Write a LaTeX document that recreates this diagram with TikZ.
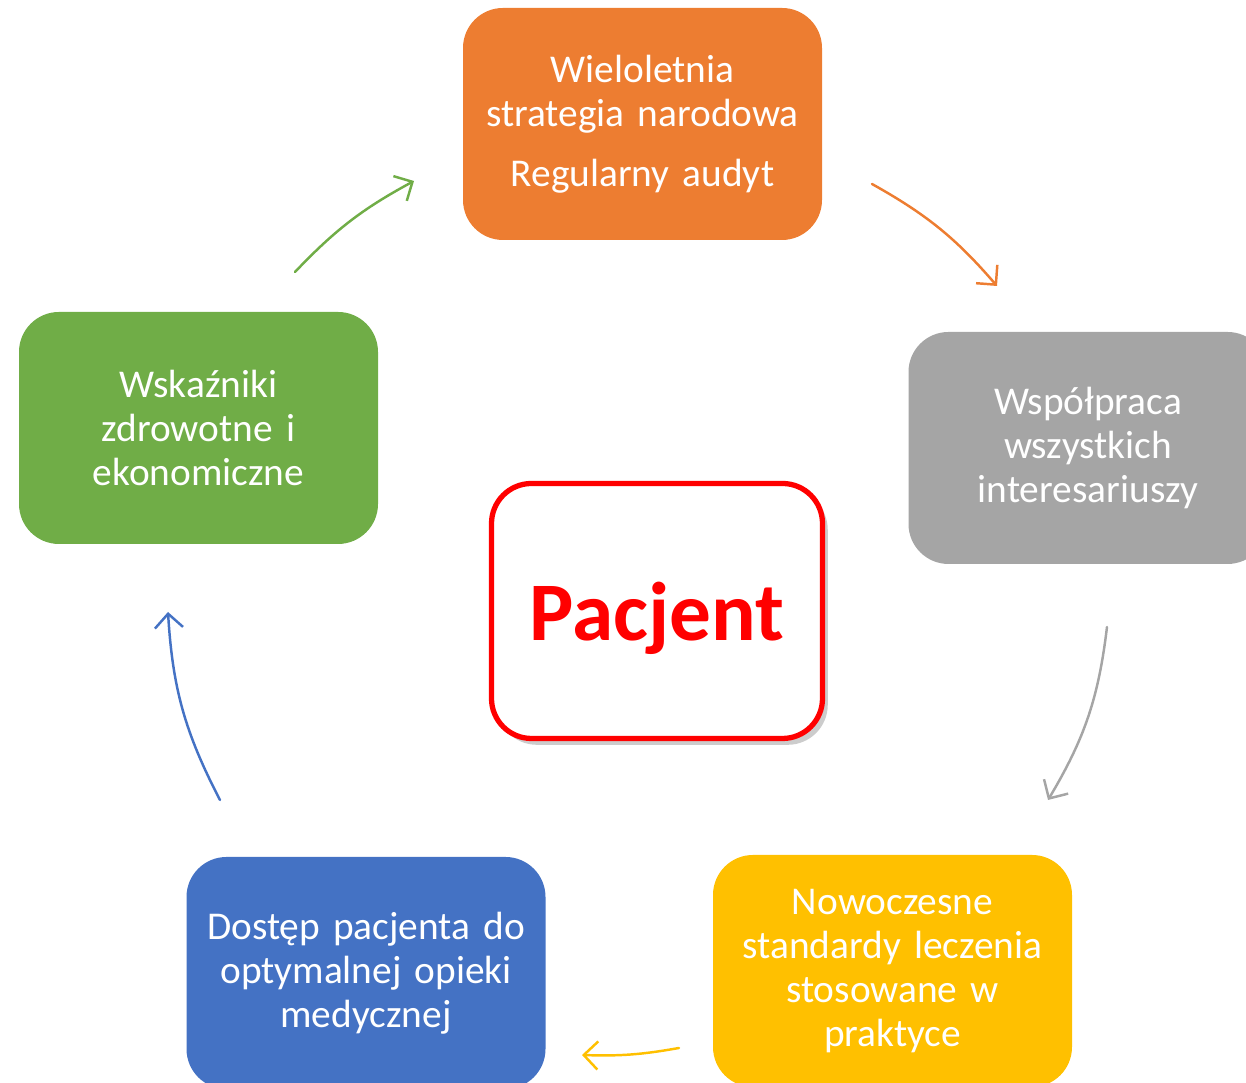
\documentclass[tikz,border=0pt]{standalone}
\usepackage{fontspec}
\setmainfont{Carlito}
\usetikzlibrary{arrows.meta,shadows}

\definecolor{cOrange}{HTML}{ED7D31}
\definecolor{cGray}{HTML}{A5A5A5}
\definecolor{cGreen}{HTML}{70AD47}
\definecolor{cBlue}{HTML}{4472C4}
\definecolor{cYellow}{HTML}{FFC000}

\begin{document}
\begin{tikzpicture}
	[line cap=round,
	%Styles
	box/.style={rounded corners=0.4cm,minimum width=3.59cm,minimum height=2.32cm,
		text width=3.4cm,align=center,text=white,inner sep=0pt,
		font=\fontsize{11.2}{12.5}\selectfont},
	patient/.style={draw=red,line width=1.5pt,fill=white,rounded corners=0.4cm,
		minimum width=3.31cm,minimum height=2.55cm,text=red,text depth=0pt,
		font=\fontsize{23.7}{28}\selectfont\bfseries,
		drop shadow={shadow xshift=1.5pt,shadow yshift=-1.8pt,opacity=0.4}},
	cycle arrow/.style={line width=0.7pt,-{Straight Barb[length=4pt,width=8pt]}}
	]
	
	\useasboundingbox (0,0) rectangle (12.46,10.83);
	\clip (0,0) rectangle (12.46,10.83);
	
	%The boxes
	\node[box,fill=cOrange] (strategy) at (6.425,9.59)
		{Wieloletnia\\strategia narodowa\\[4.5pt]Regularny audyt};
	\node[box,fill=cGray] (cooperation) at (10.88,6.35)
		{Współpraca\\wszystkich\\interesariuszy};
	\node[box,fill=cYellow] (standards) at (8.925,1.12)
		{Nowoczesne\\standardy leczenia\\stosowane w\\praktyce};
	\node[box,fill=cBlue] (access) at (3.66,1.10)
		{Dostęp pacjenta do\\optymalnej opieki\\medycznej};
	\node[box,fill=cGreen] (indicators) at (1.985,6.55)
		{Wskaźniki\\zdrowotne i\\ekonomiczne};
	
	\node[patient] (patient) at (6.57,4.72) {Pacjent};
	
	%Arrow ends
	\coordinate (g1) at (2.95,8.11);  \coordinate (g2) at (4.14,9.02);
	\coordinate (o1) at (8.72,8.99);  \coordinate (o2) at (9.97,7.97);
	\coordinate (s1) at (11.07,4.56); \coordinate (s2) at (10.48,2.83);
	\coordinate (y1) at (6.79,0.35);  \coordinate (y2) at (5.82,0.28);
	\coordinate (b1) at (2.20,2.83);  \coordinate (b2) at (1.68,4.71);
	
	\foreach \a/\b/\col/\ang in {g1/g2/cGreen/9,o1/o2/cOrange/10,s1/s2/cGray/12,
		y1/y2/cYellow/6,b1/b2/cBlue/12}
	{
		\draw[cycle arrow,color=\col] (\a) to[bend left=\ang] (\b);
	}
\end{tikzpicture}
\end{document}
